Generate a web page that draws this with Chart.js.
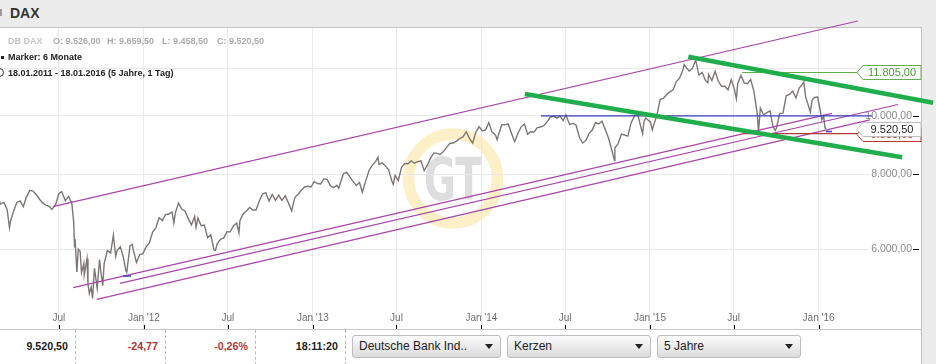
<!DOCTYPE html>
<html>
<head>
<meta charset="utf-8">
<title>DAX</title>
<script src="https://cdn.jsdelivr.net/npm/chart.js@4.4.1/dist/chart.umd.min.js"></script>
<style>
  html, body { margin: 0; padding: 0; }
  body { width: 936px; height: 364px; overflow: hidden; position: relative; background: #ececec;
         font-family: Arial, "Liberation Sans", sans-serif; }
  #panel { position: absolute; left: 0; top: 27px; width: 921px; height: 337px; background: #fff;
           border-top: 1px solid #c4c4c4; border-right: 1px solid #c4c4c4; }
  #title { position: absolute; left: 10px; top: 4px; font-weight: bold; font-size: 14px; line-height: 18px; color: #333; }
  #ticon { position: absolute; left: 0; top: 9px; width: 2px; height: 7px; background: #9a9a9a; }
  #chart { position: absolute; left: 0; top: 0; z-index: 1; }
  .info { position: absolute; z-index: 2; font-size: 9px; font-weight: bold; line-height: 12px; white-space: nowrap; color: #222; }
  .grey1 { color: #c4c4c4; }
  .grey2 { color: #ababab; }
  #bullet { position: absolute; left: 1px; top: 56px; width: 3px; height: 3px; background: #222; z-index: 2; }
  #clock { position: absolute; left: -5px; top: 68px; width: 7px; height: 7px; border: 1px solid #333; border-radius: 50%; z-index: 2; }
  #bar { position: absolute; left: 0; top: 301px; width: 921px; height: 35px; border-top: 1px solid #c8c8c8; background: #fff; }
  .cell { position: absolute; top: 0; height: 35px; line-height: 33px; font-size: 10.7px; font-weight: bold;
          text-align: right; box-sizing: border-box; padding-right: 7px; }
  .sep { border-left: 1px dashed #b8b8b8; }
  .btn { position: absolute; top: 5px; height: 23px; box-sizing: border-box; border: 1px solid #bdbdbd; border-radius: 3px;
         background: linear-gradient(#fbfbfb, #dcdcdc); font-size: 12px; line-height: 21px; color: #222; padding-left: 6px; }
  .btn i { position: absolute; right: 7px; top: 8px; width: 0; height: 0; border-left: 4px solid transparent;
           border-right: 4px solid transparent; border-top: 5px solid #222; }
</style>
</head>
<body>
<div id="ticon"></div>
<div id="title">DAX</div>
<div id="panel">
  <div id="bar">
    <div class="cell" style="left:0;width:75px;color:#222">9.520,50</div>
    <div class="cell sep" style="left:75px;width:90px;color:#a33636">-24,77</div>
    <div class="cell sep" style="left:165px;width:90px;color:#b03c3c">-0,26%</div>
    <div class="cell sep" style="left:255px;width:90px;color:#222">18:11:20</div>
    <div class="cell sep" style="left:345px;width:1px;padding:0"></div>
    <div class="btn" style="left:352px;width:149px">Deutsche Bank Ind..<i></i></div>
    <div class="btn" style="left:507px;width:144px">Kerzen<i></i></div>
    <div class="btn" style="left:657px;width:144px">5 Jahre<i></i></div>
  </div>
</div>
<canvas id="chart" width="936" height="364"></canvas>

<div class="info grey1" style="left:8px;top:35px">DB DAX</div>
<div class="info grey2" style="left:53px;top:35px">O: 9.526,00</div>
<div class="info grey2" style="left:107px;top:35px">H: 9.659,50</div>
<div class="info grey2" style="left:162px;top:35px">L: 9.458,50</div>
<div class="info grey2" style="left:217px;top:35px">C: 9.520,50</div>
<div id="bullet"></div>
<div class="info" style="left:8px;top:51px">Marker: 6 Monate</div>
<div id="clock"></div>
<div class="info" style="left:8px;top:67px">18.01.2011 - 18.01.2016 (5 Jahre, 1 Tag)</div>

<script>
// DAX closes (weekly, plus a few daily extremes)
var priceDates = [
  '2011-02-18','2011-02-24','2011-03-04','2011-03-11','2011-03-16','2011-03-18','2011-03-25','2011-04-01','2011-04-08','2011-04-15',
  '2011-04-21','2011-04-29','2011-05-06','2011-05-13','2011-05-20','2011-05-27','2011-06-03','2011-06-10','2011-06-16','2011-06-24',
  '2011-07-01','2011-07-07','2011-07-15','2011-07-22','2011-07-29','2011-08-02','2011-08-04','2011-08-05','2011-08-09','2011-08-12',
  '2011-08-16','2011-08-19','2011-08-24','2011-08-25','2011-08-31','2011-09-02','2011-09-05','2011-09-09','2011-09-12','2011-09-16',
  '2011-09-22','2011-09-27','2011-09-30','2011-10-04','2011-10-07','2011-10-14','2011-10-21','2011-10-27','2011-11-01','2011-11-04',
  '2011-11-11','2011-11-18','2011-11-23','2011-11-25','2011-12-02','2011-12-07','2011-12-09','2011-12-16','2011-12-23','2011-12-30',

  '2012-01-06','2012-01-13','2012-01-20','2012-01-27','2012-02-03','2012-02-10','2012-02-17','2012-02-24','2012-03-02','2012-03-06',
  '2012-03-09','2012-03-16','2012-03-23','2012-03-30','2012-04-05','2012-04-13','2012-04-20','2012-04-23','2012-04-27','2012-05-04',
  '2012-05-11','2012-05-18','2012-05-25','2012-06-01','2012-06-04','2012-06-08','2012-06-15','2012-06-22','2012-06-29','2012-07-06',
  '2012-07-13','2012-07-20','2012-07-25','2012-07-27','2012-08-03','2012-08-10','2012-08-17','2012-08-24','2012-08-31','2012-09-07',
  '2012-09-14','2012-09-21','2012-09-28','2012-10-05','2012-10-12','2012-10-19','2012-10-26','2012-11-02','2012-11-09','2012-11-16',
  '2012-11-23','2012-11-30','2012-12-07','2012-12-14','2012-12-21','2012-12-28',

  '2013-01-04','2013-01-11','2013-01-18','2013-01-25','2013-02-01','2013-02-08','2013-02-15','2013-02-22','2013-02-26','2013-03-01',
  '2013-03-08','2013-03-15','2013-03-22','2013-03-28','2013-04-05','2013-04-12','2013-04-18','2013-04-26','2013-05-03','2013-05-10',
  '2013-05-17','2013-05-22','2013-05-24','2013-05-31','2013-06-07','2013-06-14','2013-06-21','2013-06-24','2013-06-28','2013-07-05',
  '2013-07-12','2013-07-19','2013-07-26','2013-08-02','2013-08-09','2013-08-16','2013-08-23','2013-08-30','2013-09-06','2013-09-13',
  '2013-09-20','2013-09-27','2013-10-04','2013-10-11','2013-10-18','2013-10-25','2013-11-01','2013-11-08','2013-11-15','2013-11-22',
  '2013-11-29','2013-12-06','2013-12-13','2013-12-20','2013-12-27',

  '2014-01-03','2014-01-10','2014-01-17','2014-01-24','2014-01-31','2014-02-04','2014-02-07','2014-02-14','2014-02-21','2014-02-28',
  '2014-03-07','2014-03-14','2014-03-21','2014-03-28','2014-04-04','2014-04-11','2014-04-17','2014-04-25','2014-05-02','2014-05-09',
  '2014-05-16','2014-05-23','2014-05-30','2014-06-06','2014-06-13','2014-06-20','2014-06-27','2014-07-03','2014-07-11','2014-07-18',
  '2014-07-25','2014-08-01','2014-08-08','2014-08-15','2014-08-22','2014-08-29','2014-09-05','2014-09-12','2014-09-19','2014-09-26',
  '2014-10-03','2014-10-10','2014-10-16','2014-10-17','2014-10-24','2014-10-31','2014-11-07','2014-11-14','2014-11-21','2014-11-28',
  '2014-12-05','2014-12-12','2014-12-16','2014-12-19','2014-12-23','2014-12-30',

  '2015-01-02','2015-01-06','2015-01-09','2015-01-16','2015-01-23','2015-01-30','2015-02-06','2015-02-13','2015-02-20','2015-02-27',
  '2015-03-06','2015-03-13','2015-03-16','2015-03-20','2015-03-27','2015-04-02','2015-04-10','2015-04-17','2015-04-24','2015-05-01',
  '2015-05-06','2015-05-08','2015-05-15','2015-05-22','2015-05-29','2015-06-05','2015-06-12','2015-06-19','2015-06-26','2015-07-03',
  '2015-07-07','2015-07-10','2015-07-17','2015-07-24','2015-07-31','2015-08-07','2015-08-14','2015-08-21','2015-08-24','2015-08-28',
  '2015-09-04','2015-09-11','2015-09-18','2015-09-24','2015-09-29','2015-10-02','2015-10-09','2015-10-16','2015-10-23','2015-10-30',
  '2015-11-06','2015-11-13','2015-11-20','2015-11-27','2015-11-30','2015-12-04','2015-12-11','2015-12-14','2015-12-18','2015-12-23',
  '2015-12-30',

  '2016-01-04','2016-01-08','2016-01-12','2016-01-15','2016-01-18'
];
var priceValues = [
  7426,7130,7178,6982,6513,6664,6947,7176,7217,7056,
  7303,7514,7492,7398,7265,7163,7104,7069,6985,7121,
  7419,7480,7220,7344,7158,6667,6037,6236,5500,5998,
  5951,5480,5680,5437,5784,5246,5060,5189,4966,5574,
  5164,5765,5502,5217,5676,5967,5910,6330,5834,5966,
  6057,5800,5523,5492,6080,6107,5987,5702,5878,5898,

  6057,6143,6404,6511,6766,6692,6849,6864,6922,6634,
  6880,7158,6996,6947,6775,6583,6801,6523,6761,6562,
  6580,6271,6339,5978,5969,6130,6229,6263,6416,6410,
  6557,6630,6390,6690,6865,6944,7040,6971,6970,7214,
  7412,7451,7216,7398,7233,7380,7231,7363,7163,6950,
  7309,7405,7517,7614,7636,7612,

  7776,7715,7702,7857,7833,7652,7593,7661,7574,7708,
  8004,8058,7912,7795,7658,7744,7460,7815,8122,8279,
  8399,8531,8305,8348,8255,8128,7789,7692,7959,7806,
  8212,8331,8323,8410,8338,8391,8416,8104,8276,8509,
  8675,8661,8623,8725,8870,9001,9010,9078,9168,9225,
  9405,9172,9006,9400,9589,

  9435,9473,9742,9392,9306,9128,9301,9662,9657,9692,
  9350,9056,9343,9587,9695,9315,9409,9401,9556,9581,
  9630,9768,9943,9987,9913,9987,9815,10029,9666,9720,
  9644,9210,9010,9092,9339,9470,9747,9691,9799,9490,
  9195,8788,8430,8850,8988,9326,9291,9252,9732,9980,
  10087,9594,9335,9787,9922,9806,

  9765,9469,9648,10032,10649,10694,10846,10963,11051,11402,
  11551,11901,12167,12040,11869,11968,12375,11689,11811,11454,
  11350,11709,11447,11865,11413,11197,11197,11041,11492,11058,
  10676,11316,11674,11347,11309,11490,10985,10124,9420,10298,
  10038,10123,10189,9612,9450,9553,10096,10104,10795,10850,
  10988,10708,11119,11293,11382,10752,10340,10140,10608,10727,
  10743,

  10283,9849,9985,9545,9521
];

// drawn trend lines: [date, value] end points
var channelTop   = [['2011-06-18', 7059], ['2016-03-26', 14380]];
var channelLow1  = [['2011-08-01', 5176], ['2016-01-30', 10096]];
var channelLow2  = [['2011-11-10', 5264], ['2016-06-21', 10443]];
var channelLow3  = [['2011-09-21', 4951], ['2016-04-21', 9848]];
var greenUpper   = [['2015-03-25', 12541], ['2016-09-05', 10515]];
var greenLower   = [['2014-04-05', 10871], ['2016-06-30', 8530]];
var blueLevel    = [['2014-05-10', 10000], ['2016-04-26', 10000]];
var greenLevel   = [['2015-07-19', 11805], ['2016-03-26', 11805]];
var redLevel     = [['2015-07-22', 9338], ['2016-03-26', 9338]];
var blueMark1    = [['2011-11-17', 5413], ['2011-12-04', 5413]];
var blueMark2    = [['2016-01-17', 9416], ['2016-01-30', 9416]];

// axis
var xTickDates  = ['2011-07-01','2012-01-01','2012-07-01','2013-01-01','2013-07-01','2014-01-01','2014-07-01','2015-01-01','2015-07-01','2016-01-01'];
var xTickLabels = ['Jul', "Jan '12", 'Jul', "Jan '13", 'Jul', "Jan '14", 'Jul', "Jan '15", 'Jul', "Jan '16"];
var yTickValues = [6000, 8000, 10000, 12000];
var yHiddenLabel = 12000; // sits under the 11.805 tag

// price tags on the right edge
var tagValues = [9338, 9520.5, 11805];
var tagBorder = ['#b23a3a', '#bdbdbd', '#66ad4e'];
var tagText   = ['#b23a3a', '#1e1e1e', '#4e9b37'];

var DAY0 = Date.UTC(2011, 0, 1);
function dayOf(s) {
  var p = s.split('-');
  return (Date.UTC(+p[0], +p[1] - 1, +p[2]) - DAY0) / 86400000;
}
function pts(list) {
  return list.map(function (d) { return { x: dayOf(d[0]), y: d[1] }; });
}
function deNum(v) {
  var s = v.toFixed(2).split('.');
  return s[0].replace(/\B(?=(\d{3})+(?!\d))/g, '.') + ',' + s[1];
}

var priceData = priceDates.map(function (d, i) { return { x: dayOf(d), y: priceValues[i] }; });

function segment(list, color, width) {
  return { data: pts(list), borderColor: color, borderWidth: width, pointRadius: 0, clip: false, fill: false };
}

var watermark = {
  id: 'watermark',
  beforeDraw: function (chart) {
    var ctx = chart.ctx;
    ctx.save();
    ctx.beginPath();
    ctx.arc(453, 178.5, 44.5, 0, Math.PI * 2);
    ctx.strokeStyle = '#fdf0c8';
    ctx.lineWidth = 11.5;
    ctx.stroke();
    ctx.translate(453, 200);
    ctx.scale(0.66, 1);
    ctx.fillStyle = '#dedede';
    ctx.font = 'bold 59px "DejaVu Sans", sans-serif';
    ctx.textAlign = 'center';
    ctx.textBaseline = 'alphabetic';
    ctx.fillText('GT', 0, 0);
    ctx.restore();
  }
};

var priceTags = {
  id: 'priceTags',
  afterDatasetsDraw: function (chart) {
    var ctx = chart.ctx, y = chart.scales.y, r = chart.chartArea.right;
    ctx.save();
    ctx.font = '11px Arial, "Liberation Sans", sans-serif';
    ctx.textAlign = 'center';
    ctx.textBaseline = 'middle';
    tagValues.forEach(function (v, i) {
      var cy = Math.round(y.getPixelForValue(v)) + 0.5;
      ctx.beginPath();
      ctx.moveTo(r - 56, cy);
      ctx.lineTo(r - 50, cy - 7);
      ctx.lineTo(r + 8, cy - 7);
      ctx.lineTo(r + 8, cy + 7);
      ctx.lineTo(r - 50, cy + 7);
      ctx.closePath();
      ctx.fillStyle = '#fff';
      ctx.fill();
      ctx.strokeStyle = tagBorder[i];
      ctx.lineWidth = 1;
      ctx.stroke();
      ctx.fillStyle = tagText[i];
      ctx.fillText(deNum(v), r - 21, cy + 0.5);
    });
    ctx.restore();
  }
};

var tickMarks = {
  id: 'tickMarks',
  afterDraw: function (chart) {
    var ctx = chart.ctx, xs = chart.scales.x, ys = chart.scales.y, r = chart.chartArea.right;
    ctx.save();
    ctx.strokeStyle = '#000';
    ctx.lineWidth = 1;
    xs.ticks.forEach(function (t) {
      var px = Math.round(xs.getPixelForValue(t.value)) + 0.5;
      ctx.beginPath();
      ctx.moveTo(px, xs.bottom - 4);
      ctx.lineTo(px, xs.bottom);
      ctx.stroke();
    });
    ys.ticks.forEach(function (t) {
      if (t.value === yHiddenLabel) return;
      var py = Math.round(ys.getPixelForValue(t.value)) + 0.5;
      ctx.beginPath();
      ctx.moveTo(r, py);
      ctx.lineTo(r + 6, py);
      ctx.stroke();
    });
    ctx.restore();
  }
};

new Chart(document.getElementById('chart'), {
  type: 'line',
  data: {
    datasets: [
      segment(blueMark1, '#3b3bc4', 1.5),
      segment(blueMark2, '#3b3bc4', 1.5),
      segment(greenUpper, '#20ad4c', 4.5),
      segment(greenLower, '#20ad4c', 4.5),
      segment(redLevel, '#b43a3a', 1.3),
      segment(greenLevel, '#62ad4c', 1.2),
      segment(blueLevel, '#3d3dbd', 1.2),
      segment(channelTop, '#a646a8', 1.2),
      segment(channelLow1, '#a646a8', 1.2),
      segment(channelLow2, '#a646a8', 1.2),
      segment(channelLow3, '#a646a8', 1.2),
      { data: priceData, borderColor: '#7c7775', borderWidth: 1.4, pointRadius: 0, fill: false, tension: 0 }
    ]
  },
  options: {
    responsive: false,
    animation: false,
    devicePixelRatio: 1,
    events: [],
    layout: { padding: { left: 0, top: 28, right: 15, bottom: 35 } },
    plugins: { legend: { display: false }, tooltip: { enabled: false } },
    scales: {
      x: {
        type: 'linear',
        bounds: 'data',
        min: 53.5,
        max: 2030.5,
        afterBuildTicks: function (s) { s.ticks = xTickDates.map(function (d) { return { value: dayOf(d) }; }); },
        afterFit: function (s) { s.height = 19; },
        grid: { color: '#e9e9e9', tickColor: '#e9e9e9', tickLength: 19, drawTicks: true },
        border: { display: false },
        ticks: {
          autoSkip: false, maxRotation: 0, padding: -17, color: '#6f6f6f',
          font: { family: 'Arial, "Liberation Sans", sans-serif', size: 10 },
          callback: function (v, i) { return xTickLabels[i]; }
        }
      },
      y: {
        type: 'logarithmic',
        position: 'right',
        bounds: 'data',
        min: 4752,
        max: 13999,
        afterBuildTicks: function (s) { s.ticks = yTickValues.map(function (v) { return { value: v }; }); },
        afterFit: function (s) { s.width = 8; },
        grid: { color: '#e9e9e9', drawTicks: false },
        border: { display: false },
        ticks: {
          mirror: true, padding: -1, color: '#8a8a8a',
          showLabelBackdrop: true, backdropColor: '#fff', backdropPadding: 2,
          font: { family: 'Arial, "Liberation Sans", sans-serif', size: 10.5 },
          callback: function (v) { return v === yHiddenLabel ? '' : deNum(v); }
        }
      }
    }
  },
  plugins: [watermark, priceTags, tickMarks]
});
</script>
</body>
</html>
